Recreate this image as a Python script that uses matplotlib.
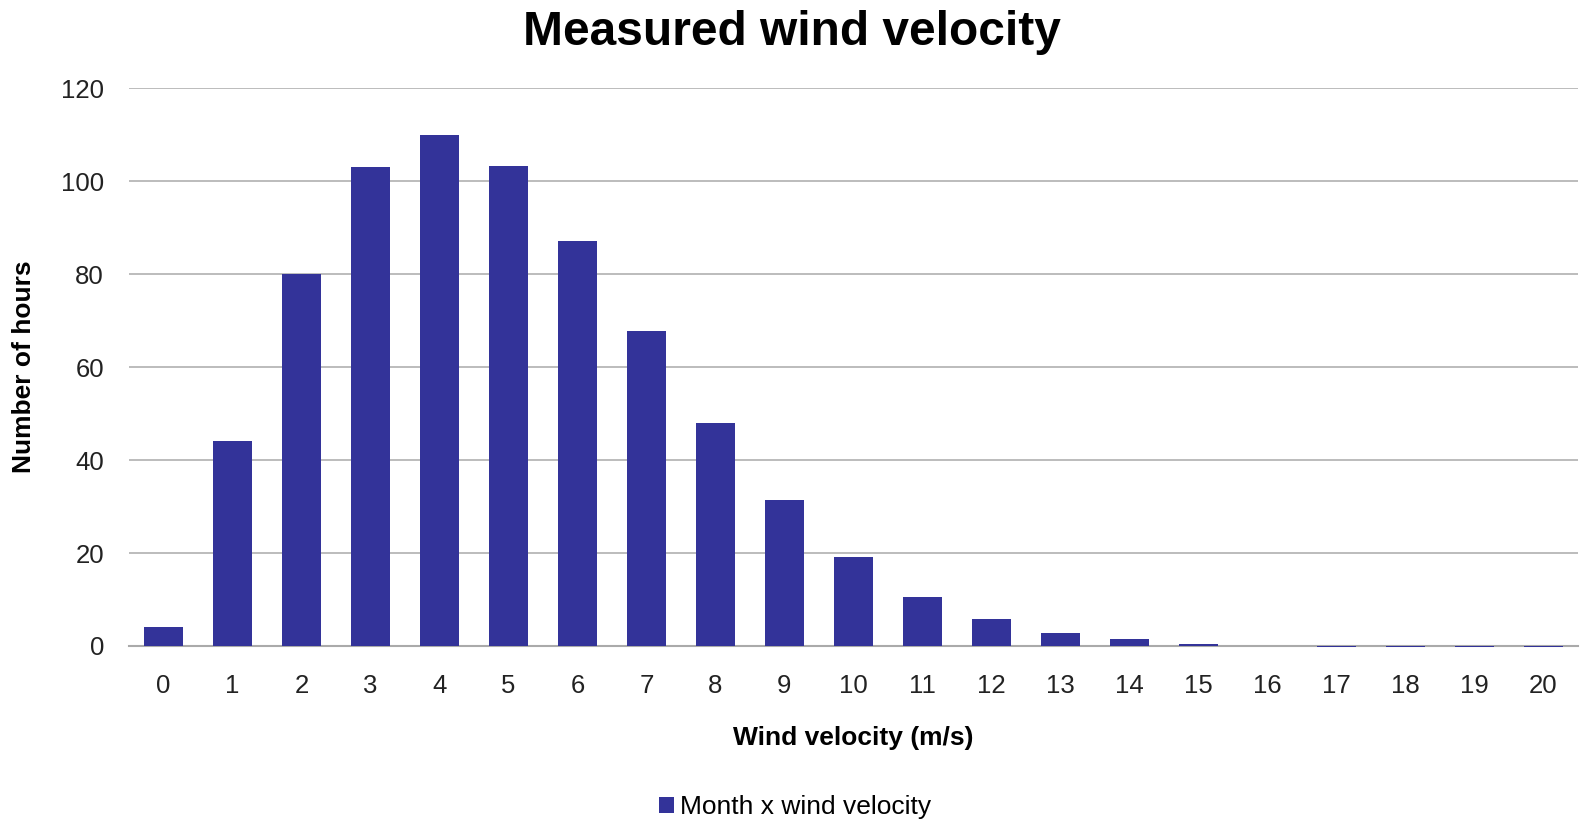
import matplotlib
matplotlib.use('Agg')
import matplotlib.pyplot as plt

plt.rcParams['font.family'] = ['Liberation Sans', 'DejaVu Sans']

velocity = list(range(0, 21))
hours = [4, 44, 80, 103, 110, 103.3, 87.2, 67.7, 48, 31.5, 19.1, 10.6, 5.9, 2.8, 1.5, 0.4, 0,
         -0.3, -0.3, -0.3, -0.3]
series_name = 'Month x wind velocity'

fig = plt.figure(figsize=(15.8, 8.25), dpi=100)
ax = fig.add_axes([0.0816, 0.217, 0.917, 0.676])

bars = ax.bar(velocity, hours, width=0.56, color='#333399', label=series_name, zorder=3)
for b in bars:
    b.set_clip_on(False)

ax.set_xlim(-0.5, 20.5)
ax.set_ylim(0, 120)
ax.set_yticks(range(0, 121, 20))
ax.set_xticks(velocity)
ax.tick_params(length=0, labelsize=18.5, colors='#222222')
ax.tick_params(axis='x', pad=20)
ax.tick_params(axis='y', pad=18)
ax.grid(axis='y', color='#b0b0b0', linewidth=1.2, zorder=0)
for s in ['top', 'right', 'left']:
    ax.spines[s].set_visible(False)
ax.spines['bottom'].set_color('#aaaaaa')
ax.spines['bottom'].set_linewidth(1.5)
ax.spines['bottom'].set_zorder(2)

ax.set_xlabel('Wind velocity (m/s)', fontsize=19, fontweight='bold', labelpad=20)
ax.set_ylabel('Number of hours', fontsize=19, fontweight='bold', labelpad=18)
fig.suptitle('Measured wind velocity', fontsize=34.5, fontweight='bold', x=0.501, y=0.988)

fig.legend(loc='lower center', bbox_to_anchor=(0.503, -0.022), frameon=False, fontsize=19,
           handlelength=0.6, handleheight=0.6, handletextpad=0.2)

fig.savefig('out.png', dpi=100)
